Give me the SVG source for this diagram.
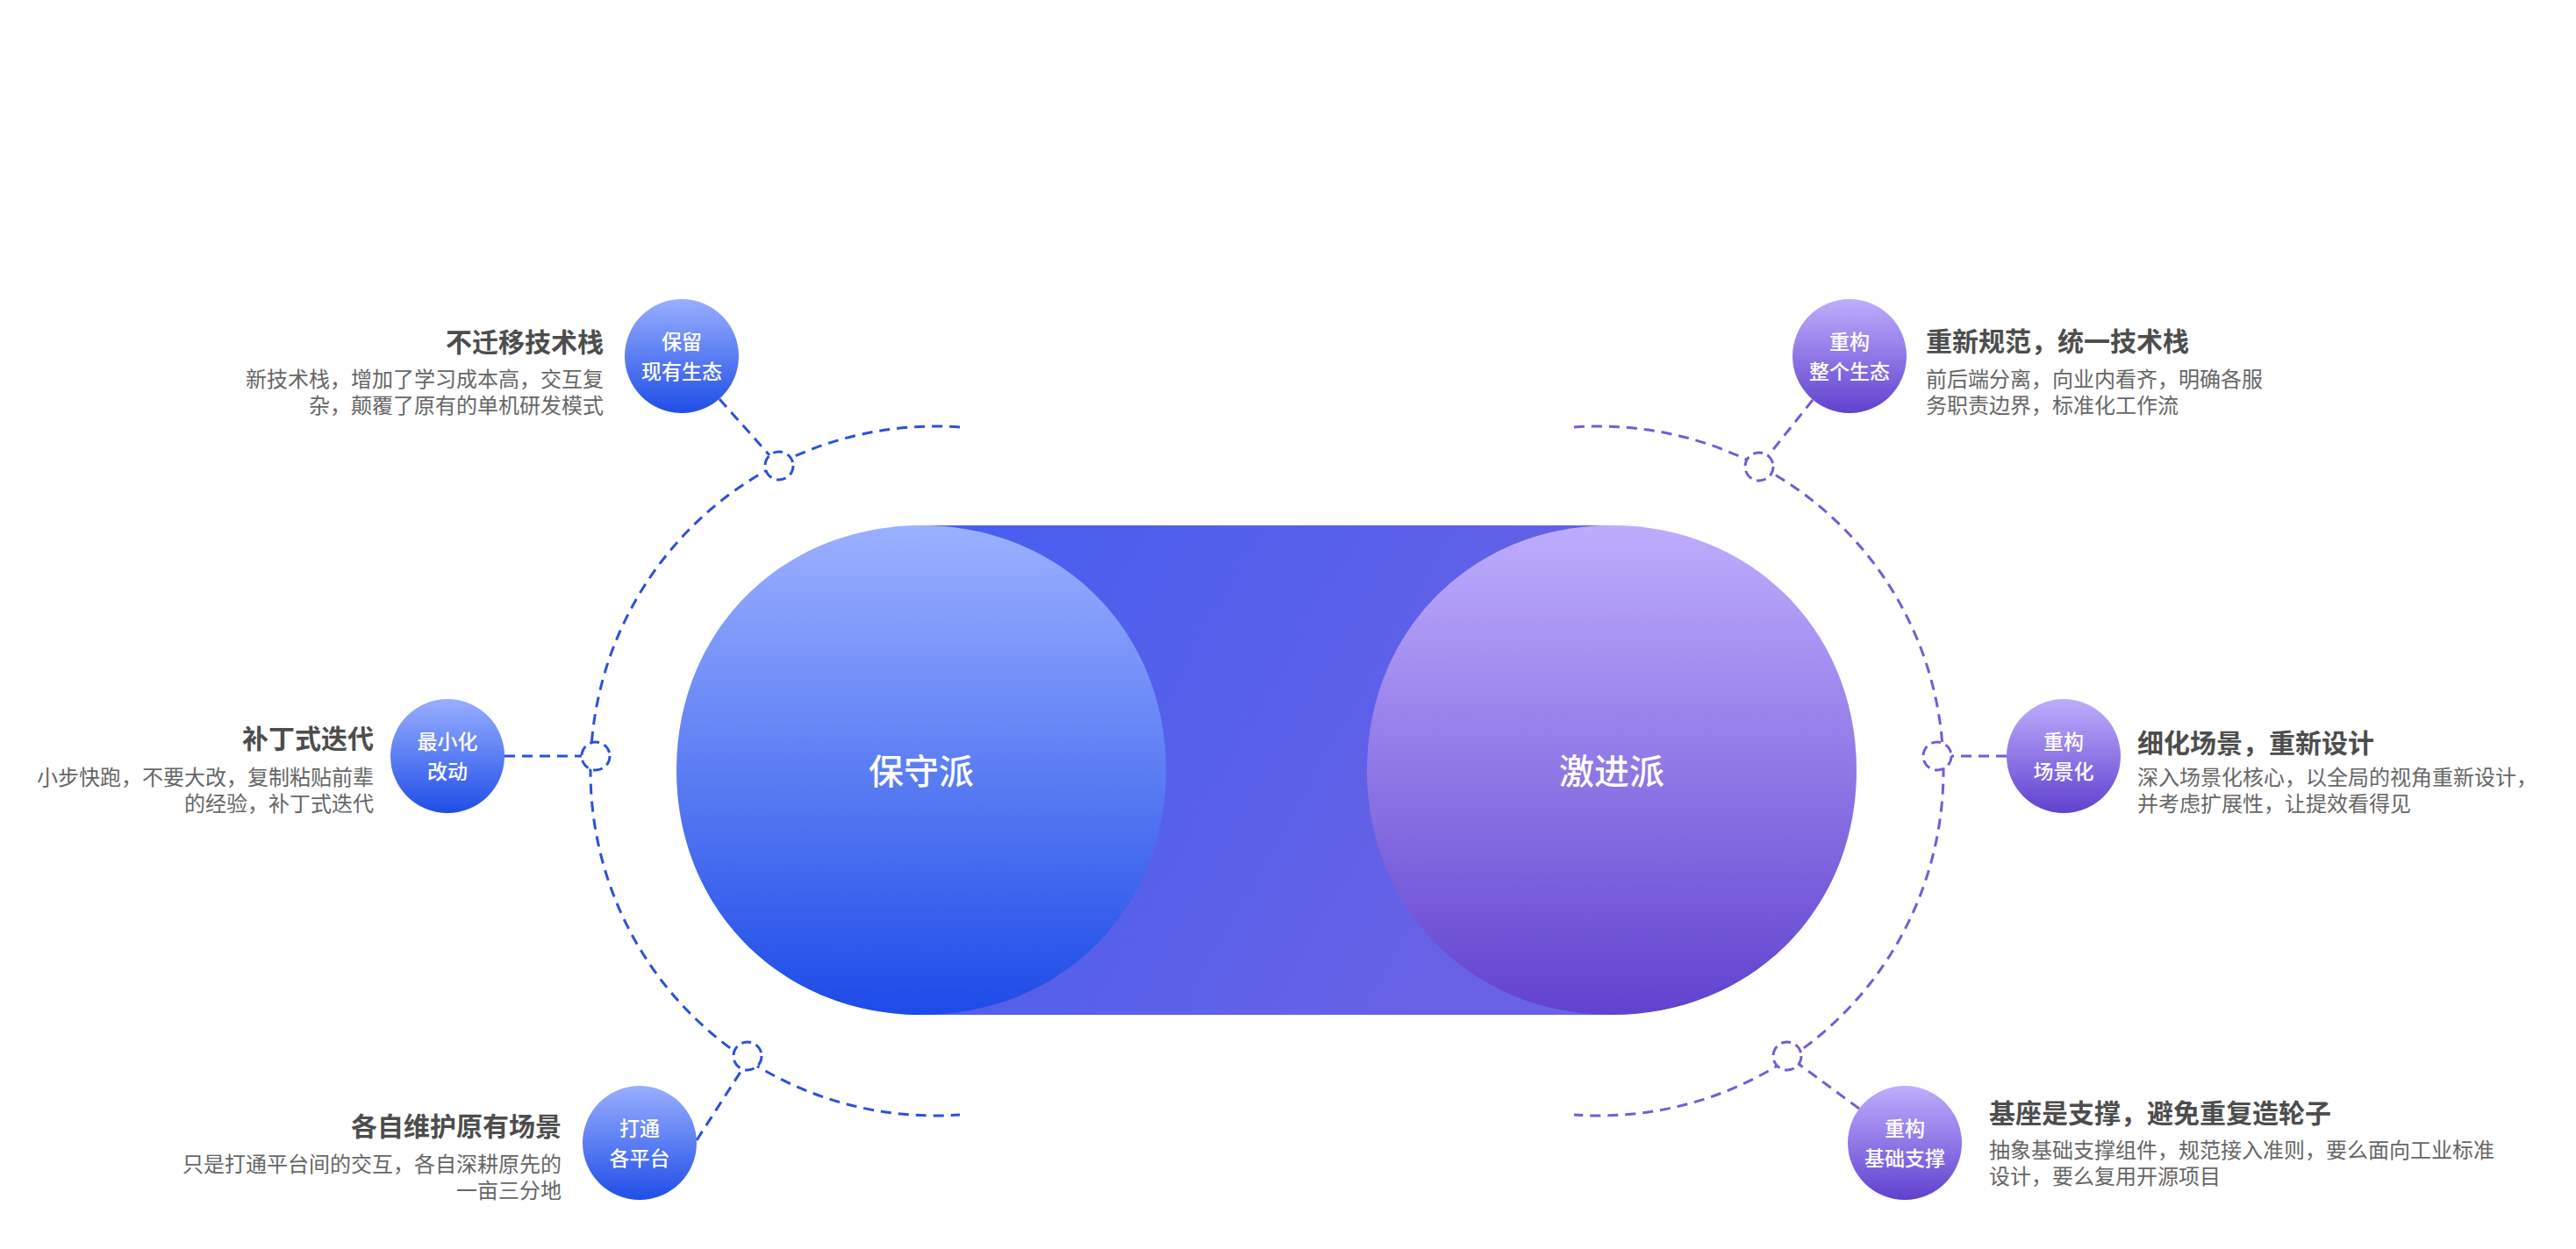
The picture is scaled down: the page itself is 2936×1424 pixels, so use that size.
<svg xmlns="http://www.w3.org/2000/svg" width="2936" height="1424" viewBox="0 0 2936 1424">
<defs>
<linearGradient id="gBlue" x1="0" y1="0" x2="0" y2="1"><stop offset="0" stop-color="#9bb0ff"/><stop offset="1" stop-color="#1d4be8"/></linearGradient>
<linearGradient id="gPurple" x1="0" y1="0" x2="0" y2="1"><stop offset="0" stop-color="#beadfd"/><stop offset="1" stop-color="#6142cf"/></linearGradient>
<linearGradient id="gNodeB" x1="0" y1="0" x2="0" y2="1"><stop offset="0" stop-color="#98aeff"/><stop offset="1" stop-color="#1f4ee7"/></linearGradient>
<linearGradient id="gNodeP" x1="0" y1="0" x2="0" y2="1"><stop offset="0" stop-color="#bfaefd"/><stop offset="1" stop-color="#6041cf"/></linearGradient>
<linearGradient id="gBand" x1="0" y1="0" x2="1" y2="0.4"><stop offset="0" stop-color="#465ef0"/><stop offset="0.5" stop-color="#5660ea"/><stop offset="1" stop-color="#6a62e6"/></linearGradient>
<style>
.t{font-family:"Noto Sans CJK SC","Noto Sans",sans-serif;font-size:30px;font-weight:bold;fill:#4d4d4d}
.d{font-family:"Noto Sans CJK SC","Noto Sans",sans-serif;font-size:24px;fill:#666666}
.n{font-family:"Noto Sans CJK SC","Noto Sans",sans-serif;font-size:23px;font-weight:500;fill:#ffffff;text-anchor:middle}
.c{font-family:"Noto Sans CJK SC","Noto Sans",sans-serif;font-size:40px;font-weight:500;fill:#ffffff;text-anchor:middle}
.r{text-anchor:end}
.db{fill:none;stroke:#2b50d8;stroke-width:3;stroke-dasharray:12 8}
.dp{fill:none;stroke:#7759d8;stroke-width:3;stroke-dasharray:12 8}
.sb{fill:#ffffff;stroke:#2b50d8;stroke-width:3;stroke-dasharray:11 6}
.sp{fill:#ffffff;stroke:#7759d8;stroke-width:3;stroke-dasharray:11 6}
</style>
</defs>
<rect width="2936" height="1424" fill="#ffffff"/>

<g id="connectors">
<path class="db" d="M 1094 487 A 393 393 0 1 0 1094 1271"/>
<path class="dp" d="M 1794 487 A 393 393 0 1 1 1794 1271"/>
<line class="db" x1="820" y1="455" x2="877" y2="519"/>
<line class="db" x1="575" y1="862" x2="663" y2="862"/>
<line class="db" x1="794" y1="1300" x2="846" y2="1219"/>
<line class="dp" x1="2066" y1="456" x2="2015" y2="520"/>
<line class="dp" x1="2287" y1="862" x2="2224" y2="862"/>
<line class="dp" x1="2119" y1="1264" x2="2050" y2="1213"/>
<circle class="sb" cx="888" cy="531" r="16"/>
<circle class="sb" cx="679" cy="862" r="16"/>
<circle class="sb" cx="852" cy="1204" r="16"/>
<circle class="sp" cx="2005" cy="532" r="16"/>
<circle class="sp" cx="2208" cy="862" r="16"/>
<circle class="sp" cx="2037" cy="1204" r="16"/>
</g>

<g id="band">
<rect x="1050" y="599" width="787" height="558" fill="url(#gBand)"/>
</g>

<g id="conservative">
<path fill="url(#gBlue)" d="M 1050 599 C 1209 599 1329 719 1329 878 C 1329 1037 1209 1157 1050 1157 C 891 1157 771 1037 771 878 C 771 719 891 599 1050 599 Z"/>
<text class="c" x="1050" y="894">保守派</text>
</g>

<g id="radical">
<path fill="url(#gPurple)" d="M 1837 599 C 1996 599 2116 719 2116 878 C 2116 1037 1996 1157 1837 1157 C 1678 1157 1558 1037 1558 878 C 1558 719 1678 599 1837 599 Z"/>
<text class="c" x="1837" y="894">激进派</text>
</g>

<g id="node-keep">
<circle cx="777" cy="406" r="65" fill="url(#gNodeB)"/>
<text class="n"><tspan x="777" y="398">保留</tspan><tspan x="777" y="431.5">现有生态</tspan></text>
<text class="t r" x="688" y="401">不迁移技术栈</text>
<text class="d r" x="688" y="441">新技术栈，增加了学习成本高，交互复</text>
<text class="d r" x="688" y="471">杂，颠覆了原有的单机研发模式</text>
</g>

<g id="node-minimal">
<circle cx="510" cy="862" r="65" fill="url(#gNodeB)"/>
<text class="n"><tspan x="510" y="854">最小化</tspan><tspan x="510" y="887.5">改动</tspan></text>
<text class="t r" x="426" y="853">补丁式迭代</text>
<text class="d r" x="426" y="895">小步快跑，不要大改，复制粘贴前辈</text>
<text class="d r" x="426" y="925">的经验，补丁式迭代</text>
</g>

<g id="node-connect">
<circle cx="729" cy="1303" r="65" fill="url(#gNodeB)"/>
<text class="n"><tspan x="729" y="1295">打通</tspan><tspan x="729" y="1328.5">各平台</tspan></text>
<text class="t r" x="640" y="1295">各自维护原有场景</text>
<text class="d r" x="640" y="1336">只是打通平台间的交互，各自深耕原先的</text>
<text class="d r" x="640" y="1366">一亩三分地</text>
</g>

<g id="node-ecosystem">
<circle cx="2108" cy="406" r="65" fill="url(#gNodeP)"/>
<text class="n"><tspan x="2108" y="398">重构</tspan><tspan x="2108" y="431.5">整个生态</tspan></text>
<text class="t" x="2195" y="400">重新规范，统一技术栈</text>
<text class="d" x="2195" y="441">前后端分离，向业内看齐，明确各服</text>
<text class="d" x="2195" y="471">务职责边界，标准化工作流</text>
</g>

<g id="node-scene">
<circle cx="2352" cy="862" r="65" fill="url(#gNodeP)"/>
<text class="n"><tspan x="2352" y="854">重构</tspan><tspan x="2352" y="887.5">场景化</tspan></text>
<text class="t" x="2436" y="858">细化场景，重新设计</text>
<text class="d" x="2436" y="895">深入场景化核心，以全局的视角重新设计，</text>
<text class="d" x="2436" y="925">并考虑扩展性，让提效看得见</text>
</g>

<g id="node-base">
<circle cx="2171" cy="1303" r="65" fill="url(#gNodeP)"/>
<text class="n"><tspan x="2171" y="1295">重构</tspan><tspan x="2171" y="1328.5">基础支撑</tspan></text>
<text class="t" x="2267" y="1280">基座是支撑，避免重复造轮子</text>
<text class="d" x="2267" y="1320">抽象基础支撑组件，规范接入准则，要么面向工业标准</text>
<text class="d" x="2267" y="1350">设计，要么复用开源项目</text>
</g>
</svg>
